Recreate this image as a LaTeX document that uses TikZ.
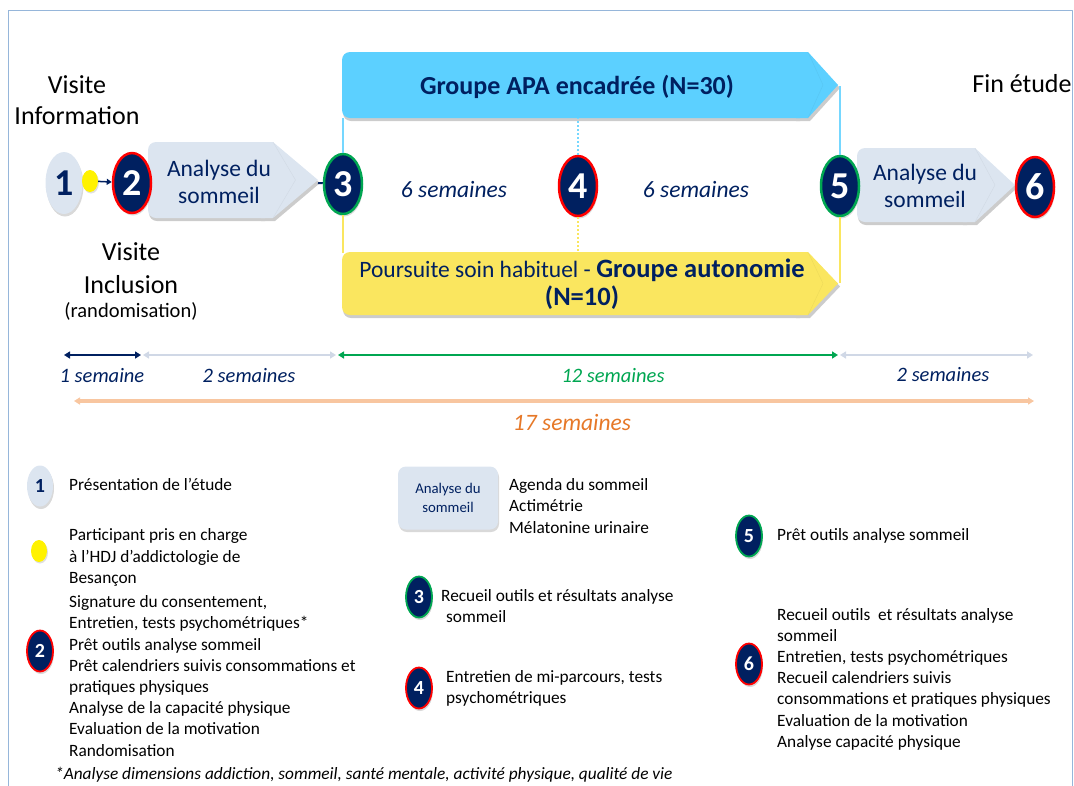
\documentclass[tikz,border=0pt]{standalone}
\usepackage{fontspec}
\setmainfont{Carlito}
\usetikzlibrary{positioning,calc,shapes,arrows.meta,shadows}
\definecolor{navy}{RGB}{0,32,96}
\definecolor{pale}{RGB}{220,229,240}
\definecolor{sky}{RGB}{92,208,255}
\definecolor{lemon}{RGB}{250,230,95}
\definecolor{apagreen}{RGB}{0,166,81}
\definecolor{peach}{RGB}{248,198,160}
\definecolor{orangetxt}{RGB}{230,120,40}
\definecolor{frameblue}{RGB}{150,182,218}
\definecolor{tickgray}{RGB}{208,216,230}
\newcommand \mychevron[6]
{
\fill[black!20,rounded corners=8pt] (#1+1,#2+3) rectangle (#3-#5,#4+3);
\fill[black!20] (#3-#5-12,#2+3)--(#3-#5+2,#2+3)--(#3+2,{(#2+#4)/2+3})--(#3-#5+2,#4+3)--(#3-#5-12,#4+3)--cycle;
\fill[#6,rounded corners=8pt] (#1,#2) rectangle (#3-#5,#4);
\fill[#6] (#3-#5-12,#2)--(#3-#5,#2)--(#3,{(#2+#4)/2})--(#3-#5,#4)--(#3-#5-12,#4)--cycle;
\draw[#6!80!black,opacity=0.25] (#3-#5,#2)--(#3-#5+0.5*#5,{(#2+#4)/2})--(#3-#5,#4);
}
\tikzset{
num/.style={ellipse, fill=navy, text=white, inner sep=0pt, minimum width=38pt, minimum height=60pt,
  line width=2.5pt, font=\bfseries\fontsize{38}{38}\selectfont,
  drop shadow={shadow xshift=1pt, shadow yshift=-2.5pt, opacity=0.3}},
lnum/.style={num, minimum width=26pt, minimum height=41pt, line width=1.8pt, font=\bfseries\fontsize{20}{20}\selectfont},
dot/.style={ellipse, fill=yellow, inner sep=0pt, minimum width=16pt, minimum height=22pt,
  drop shadow={shadow xshift=1pt, shadow yshift=-1.5pt, opacity=0.25}},
big/.style={font=\fontsize{26}{31}\selectfont, align=center},
navytxt/.style={text=navy, font=\fontsize{23.5}{27}\selectfont, align=center},
wk/.style={font=\itshape\fontsize{20.5}{20.5}\selectfont},
txt/.style={font=\fontsize{17.3}{21.2}\selectfont, align=left, anchor=west, inner sep=0pt},
tl/.style={line width=2.5pt, {Triangle[length=6pt,width=7pt]}-{Triangle[length=6pt,width=7pt]}}
}
\begin{document}
\begin{tikzpicture}[x=1pt, y=-1pt, line join=round]
\useasboundingbox (0,0) rectangle (1074,785);
\draw[frameblue, line width=1pt] (8,10) rectangle (1072,800);
% titres
\node[big] (visinfo) at (77,100) {Visite\\Information};
\node[big] (fin) at (1022,84) {Fin étude};
\node[big, font=\fontsize{26}{33}\selectfont] (visincl) at (131,268) {Visite\\Inclusion};
\node[font=\fontsize{20.5}{20.5}\selectfont] (rando) at (131,311) {(randomisation)};
% fleches des groupes
\mychevron{148}{142}{318}{218}{45}{pale}
\mychevron{342}{52}{838}{118}{30}{sky}
\mychevron{342}{252}{838}{315}{30}{lemon}
\mychevron{857}{148}{1015}{222}{40}{pale}
\node[navytxt] (ana1) at (219,182) {Analyse du\\sommeil};
\node[navytxt] (ana2) at (925,186) {Analyse du\\sommeil};
\node[navytxt, font=\bfseries\fontsize{26}{26}\selectfont] (apa) at (577,87) {Groupe APA encadrée (N=30)};
\node[navytxt, font=\fontsize{23.5}{28}\selectfont] (auto) at (582,284)
  {Poursuite soin habituel - {\bfseries\fontsize{26.5}{28}\selectfont Groupe autonomie}\\{\bfseries\fontsize{26.5}{28}\selectfont (N=10)}};
\coordinate (anatip) at (318,183);
\coordinate (apaL) at (343,118);
\coordinate (apaM) at (578,118);
\coordinate (apaR) at (840,86);
\coordinate (autL) at (343,253);
\coordinate (autM) at (578,253);
\coordinate (autR) at (840,283);
% visites
\node[num, fill=pale, text=navy, minimum width=37pt, minimum height=62pt] (n1) at (64,183) {1};
\node[dot] (dot) at (90,181) {};
\node[num, draw=red] (n2) at (132,183) {2};
\node[num, draw=apagreen] (n3) at (343,184) {3};
\node[num, draw=red] (n4) at (578,186) {4};
\node[num, draw=apagreen] (n5) at (840,186) {5};
\node[num, draw=red] (n6) at (1035,187) {6};
\draw[navy, line width=1.5pt, -{Triangle[length=5pt,width=6pt]}] (dot) -- (n2);
\draw[navy, line width=2pt] (anatip) -- (n3);
\draw[sky!85, line width=2pt] (n3) -- (apaL) (n5) -- (apaR);
\draw[lemon, line width=2pt] (n3) -- (autL) (n5) -- (autR);
\draw[sky!85, line width=2pt, dotted] (n4) -- (apaM);
\draw[lemon, line width=2pt, dotted] (n4) -- (autM);
\node[wk, text=navy, font=\itshape\fontsize{23.5}{23.5}\selectfont] (s1) at (454,189) {6 semaines};
\node[wk, text=navy, font=\itshape\fontsize{23.5}{23.5}\selectfont] (s2) at (696,189) {6 semaines};
% frise
\coordinate (a0) at (64,355); \coordinate (a1) at (141,355);
\coordinate (b0) at (143,355); \coordinate (b1) at (336,355);
\coordinate (c0) at (338,355); \coordinate (c1) at (838,355);
\coordinate (d0) at (840,355); \coordinate (d1) at (1033,355);
\coordinate (e0) at (74,401); \coordinate (e1) at (1034,401);
\draw[tl, navy] (a0) -- (a1);
\draw[tl, tickgray] (b0) -- (b1);
\draw[tl, apagreen] (c0) -- (c1);
\draw[tl, tickgray] (d0) -- (d1);
\draw[tl, peach, line width=3.5pt] (e0) -- (e1);
\node[wk, text=navy] (w1) at (102,376) {1 semaine};
\node[wk, text=navy] (w2) at (249,376) {2 semaines};
\node[wk, text=apagreen] (w3) at (613,376) {12 semaines};
\node[wk, text=navy] (w4) at (943,375) {2 semaines};
\node[wk, text=orangetxt, font=\itshape\fontsize{23.5}{23.5}\selectfont] (w5) at (572,422) {17 semaines};
% legende
\node[lnum, fill=pale, text=navy] (l1) at (40,486) {1};
\node[txt] (d1) at (69,484) {Présentation de l’étude};
\node[dot] (ldot) at (39,551) {};
\node[txt] (dd) at (69,557.5) {Participant pris en charge\\à l’HDJ d’addictologie de\\Besançon};
\node[lnum, draw=red] (l2) at (40,651) {2};
\node[txt] (d2) at (69,676) {Signature du consentement,\\Entretien, tests psychométriques*\\Prêt outils analyse sommeil\\Prêt calendriers suivis consommations et\\pratiques physiques\\Analyse de la capacité physique\\Evaluation de la motivation\\Randomisation};
\node[fill=pale, rounded corners=8pt, minimum width=100pt, minimum height=63pt, text=navy,
  font=\fontsize{14.8}{19}\selectfont, align=center,
  drop shadow={shadow xshift=1pt, shadow yshift=-2.5pt, opacity=0.3}] (lana) at (448,498) {Analyse du\\sommeil};
\node[txt] (dana) at (509,506) {Agenda du sommeil\\Actimétrie\\Mélatonine urinaire};
\node[lnum, draw=apagreen] (l3) at (419,597) {3};
\node[txt] (d3) at (441,606) {Recueil outils et résultats analyse\\\hspace*{5pt}sommeil};
\node[lnum, draw=red] (l4) at (419,688) {4};
\node[txt] (d4) at (446,688) {Entretien de mi-parcours, tests\\psychométriques};
\node[lnum, draw=apagreen] (l5) at (749,536) {5};
\node[txt] (d5) at (777,536) {Prêt outils analyse sommeil};
\node[lnum, draw=red] (l6) at (749,664) {6};
\node[txt] (d6) at (777,679) {Recueil outils~ et résultats analyse\\sommeil\\Entretien, tests psychométriques\\Recueil calendriers suivis\\consommations et pratiques physiques\\Evaluation de la motivation\\Analyse capacité physique};
\node[txt, font=\itshape\fontsize{17.3}{18}\selectfont] (note) at (55,775) {*Analyse dimensions addiction, sommeil, santé mentale, activité physique, qualité de vie};
\end{tikzpicture}
\end{document}
